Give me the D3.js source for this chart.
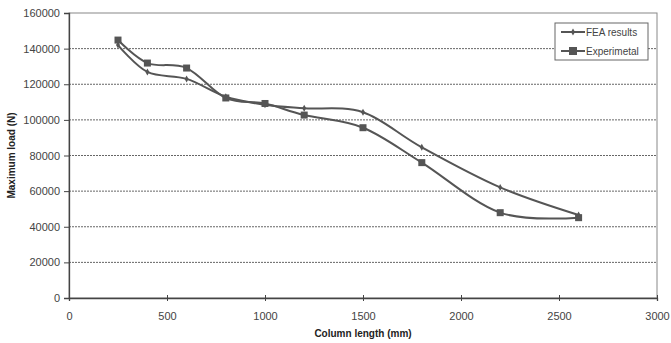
<!DOCTYPE html>
<html><head><meta charset="utf-8">
<script src="https://cdn.jsdelivr.net/npm/d3@7"></script>
<style>body{margin:0;background:#fff}svg{display:block;font-family:Arial,"Liberation Sans",sans-serif}</style>
</head><body><svg id="c" width="671" height="343"></svg>
<script>
const lengths = [250, 400, 600, 800, 1000, 1200, 1500, 1800, 2200, 2600];
const feaResults = [142000, 126900, 123000, 113000, 108500, 106500, 104300, 84600, 62100, 46600];
const experimental = [144800, 131900, 129100, 112300, 109200, 102700, 95600, 76000, 47900, 45100];
const xTicks = [0, 500, 1000, 1500, 2000, 2500, 3000];
const yTicks = [0, 20000, 40000, 60000, 80000, 100000, 120000, 140000, 160000];
const seriesNames = ["FEA results", "Experimetal"];

const svg = d3.select("#c");
const L = 69, R = 657, T = 13, B = 298;
const x = d3.scaleLinear().domain([0, 3000]).range([L, R]);
const y = d3.scaleLinear().domain([0, 160000]).range([B, T]);
const ink = "#555", txt = "#444";

// gridlines
svg.append("g").selectAll("line").data(yTicks.filter(v => v > 0 && v < 160000)).join("line")
  .attr("x1", L).attr("x2", R).attr("y1", d => y(d)).attr("y2", d => y(d))
  .attr("stroke", "#666").attr("stroke-width", 1).attr("stroke-dasharray", "2,1");

// plot border
svg.append("rect").attr("x", L).attr("y", T).attr("width", R - L).attr("height", B - T)
  .attr("fill", "none").attr("stroke", "#888").attr("stroke-width", 1);

// axes
const yAxis = d3.axisLeft(y).tickValues(yTicks).tickSize(5).tickPadding(4).tickFormat(d3.format("d"));
const gy = svg.append("g").attr("transform", `translate(${L},0)`).call(yAxis);
const xAxis = d3.axisBottom(x).tickValues(xTicks).tickSize(3).tickPadding(11).tickFormat(d3.format("d"));
const gx = svg.append("g").attr("transform", `translate(0,${B})`).call(xAxis);
gx.selectAll(".tick line").attr("y1", -3);
[gx, gy].forEach(g => {
  g.select(".domain").attr("stroke", "#444").attr("stroke-width", 1.3);
  g.selectAll(".tick line").attr("stroke", "#444");
  g.selectAll(".tick text").attr("fill", txt).attr("font-size", 11).attr("font-family", "Arial, Liberation Sans, sans-serif");
});

// titles
svg.append("text").attr("x", (L + R) / 2).attr("y", 337).attr("text-anchor", "middle")
  .attr("font-size", 10).attr("font-weight", "bold").attr("fill", "#222").text("Column length (mm)");
svg.append("text").attr("transform", `translate(15,${(T + B) / 2}) rotate(-90)`).attr("text-anchor", "middle")
  .attr("font-size", 10).attr("font-weight", "bold").attr("fill", "#222").text("Maximum load (N)");

// lines
const line = d3.line().x(d => x(d[0])).y(d => y(d[1])).curve(d3.curveCardinal.tension(0));
const feaPts = lengths.map((l, i) => [l, feaResults[i]]);
const expPts = lengths.map((l, i) => [l, experimental[i]]);
[feaPts, expPts].forEach(pts => {
  svg.append("path").datum(pts).attr("d", line).attr("fill", "none").attr("stroke", ink).attr("stroke-width", 2);
});
// markers
const diamond = d3.symbol().type(d3.symbolDiamond).size(14);
svg.append("g").selectAll("path").data(feaPts).join("path")
  .attr("transform", d => `translate(${x(d[0])},${y(d[1])})`).attr("d", diamond()).attr("fill", ink);
svg.append("g").selectAll("rect").data(expPts).join("rect")
  .attr("x", d => x(d[0]) - 3.5).attr("y", d => y(d[1]) - 3.5).attr("width", 7).attr("height", 7).attr("fill", ink);

// legend
const lg = svg.append("g");
lg.append("rect").attr("x", 555).attr("y", 23).attr("width", 93).attr("height", 37)
  .attr("fill", "#fff").attr("stroke", "#666").attr("stroke-width", 1);
seriesNames.forEach((n, i) => {
  const yy = 32 + i * 19;
  lg.append("line").attr("x1", 561).attr("x2", 585).attr("y1", yy).attr("y2", yy).attr("stroke", ink).attr("stroke-width", 2);
  if (i === 0) lg.append("path").attr("transform", `translate(573,${yy})`).attr("d", diamond()).attr("fill", ink);
  else lg.append("rect").attr("x", 569).attr("y", yy - 4).attr("width", 8).attr("height", 8).attr("fill", ink);
  lg.append("text").attr("x", 586).attr("y", yy + 3.5).attr("font-size", 10).attr("fill", txt).text(n);
});
</script></body></html>
